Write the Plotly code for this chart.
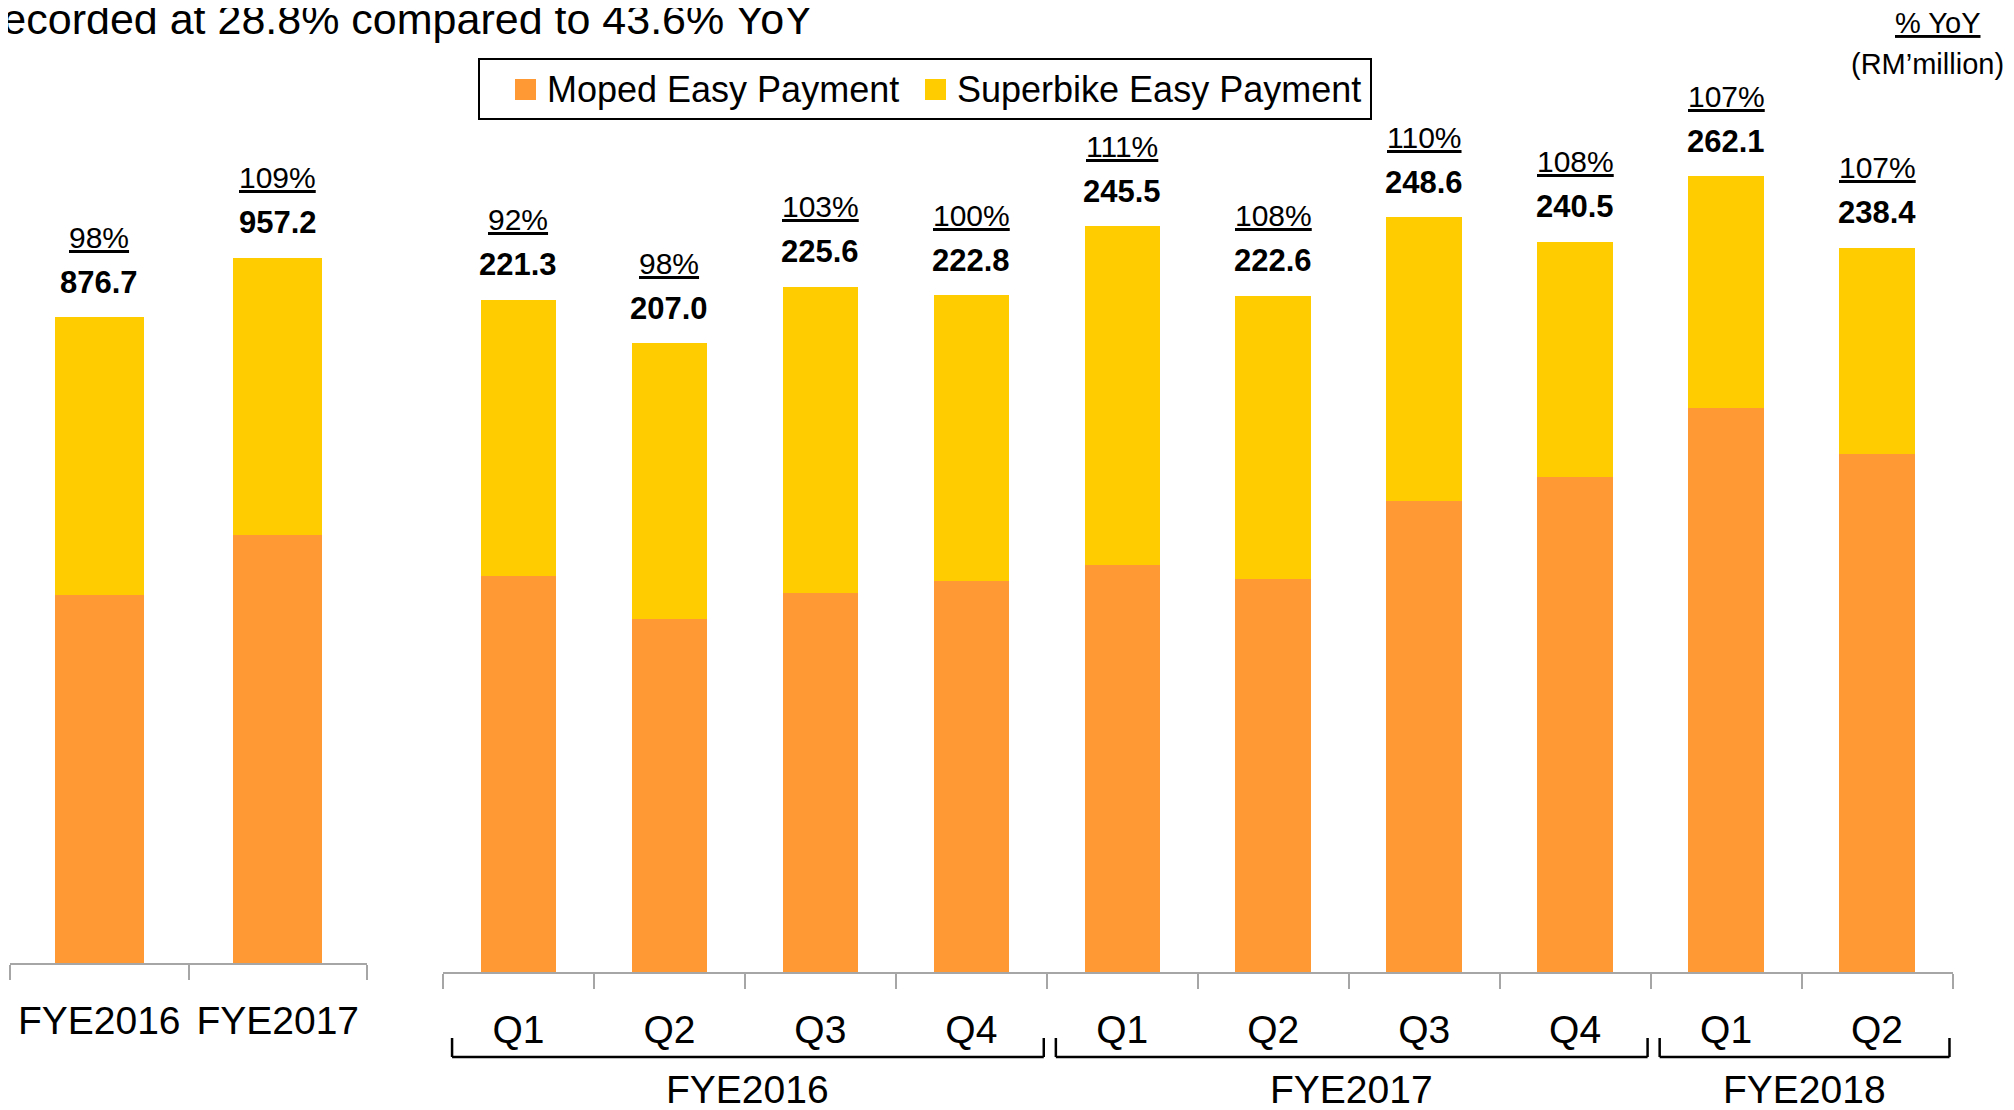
import plotly.graph_objects as go

W, H = 2014, 1110
OFF = 8  # the page body adds an 8 px margin around the figure
FONT = "Liberation Sans, Arial, sans-serif"
ORANGE = "#FF9933"
YELLOW = "#FFCC00"
AXIS_GREY = "#A6A6A6"

# annual (left panel)
annual_labels = ["FYE2016", "FYE2017"]
annual_moped = [500.0, 581.6]
annual_superbike = [376.7, 375.6]
annual_total = [876.7, 957.2]
annual_yoy = ["98%", "109%"]

# quarterly (right panel)
quarter_labels = ["Q1", "Q2", "Q3", "Q4", "Q1", "Q2", "Q3", "Q4", "Q1", "Q2"]
quarter_years = ["FYE2016", "FYE2016", "FYE2016", "FYE2016",
                 "FYE2017", "FYE2017", "FYE2017", "FYE2017",
                 "FYE2018", "FYE2018"]
quarter_moped = [130.3, 116.3, 124.8, 128.6, 134.1, 129.4, 155.2, 162.9, 185.7, 170.5]
quarter_superbike = [91.0, 90.7, 100.8, 94.2, 111.4, 93.2, 93.4, 77.6, 76.4, 67.9]
quarter_total = [221.3, 207.0, 225.6, 222.8, 245.5, 222.6, 248.6, 240.5, 262.1, 238.4]
quarter_yoy = ["92%", "98%", "103%", "100%", "111%", "108%", "110%", "108%", "107%", "107%"]

quarter_keys = [f"{y} {q}" for y, q in zip(quarter_years, quarter_labels)]

# pixels per million on each panel
LEFT_SCALE = 0.7367
RIGHT_SCALE = 3.037


def py(y_px):
    """Screen row (from top) to paper fraction."""
    return (H - (y_px - OFF)) / H


def px_(x_px):
    return (x_px - OFF) / W


fig = go.Figure()

for xs, moped, sb, xa, ya in [
    (annual_labels, annual_moped, annual_superbike, "x", "y"),
    (quarter_keys, quarter_moped, quarter_superbike, "x2", "y2"),
]:
    fig.add_bar(x=xs, y=moped, name="Moped Easy Payment", marker_color=ORANGE,
                marker_line_width=0, xaxis=xa, yaxis=ya, showlegend=False)
    fig.add_bar(x=xs, y=sb, name="Superbike Easy Payment", marker_color=YELLOW,
                marker_line_width=0, xaxis=xa, yaxis=ya, showlegend=False)

annotations = []


def bar_labels(xs, totals, yoys, xref, yref):
    for x, t, p in zip(xs, totals, yoys):
        annotations.append(dict(
            x=x, y=t, xref=xref, yref=yref, text=f"<b>{t:.1f}</b>",
            showarrow=False, xanchor="center", yanchor="middle", yshift=35,
            font=dict(size=31, color="black", family=FONT),
        ))
        annotations.append(dict(
            x=x, y=t, xref=xref, yref=yref,
            text=f"<span style='text-decoration:underline'>{p}</span>",
            showarrow=False, xanchor="center", yanchor="middle", yshift=80,
            font=dict(size=30, color="black", family=FONT),
        ))


bar_labels(annual_labels, annual_total, annual_yoy, "x", "y")
bar_labels(quarter_keys, quarter_total, quarter_yoy, "x2", "y2")

# fiscal-year brackets under the quarterly axis
shapes = []
years = []
for y in quarter_years:
    if y not in years:
        years.append(y)
for y in years:
    idx = [i for i, v in enumerate(quarter_years) if v == y]
    x0 = idx[0] - 0.5 + 0.06
    x1 = idx[-1] + 0.5 - 0.02
    line = dict(color="black", width=2.5)
    shapes.append(dict(type="line", xref="x2", yref="paper", x0=x0, x1=x1,
                       y0=py(1057), y1=py(1057), line=line))
    shapes.append(dict(type="line", xref="x2", yref="paper", x0=x0, x1=x0,
                       y0=py(1057), y1=py(1038), line=line))
    shapes.append(dict(type="line", xref="x2", yref="paper", x0=x1, x1=x1,
                       y0=py(1057), y1=py(1038), line=line))
    annotations.append(dict(
        x=(x0 + x1) / 2, y=py(1089), xref="x2", yref="paper", text=y,
        showarrow=False, xanchor="center", yanchor="middle",
        font=dict(size=39, color="black", family=FONT),
    ))

# legend box drawn by hand to match the large swatches
shapes.append(dict(type="rect", xref="paper", yref="paper",
                   x0=px_(479), x1=px_(1371), y0=py(119), y1=py(59),
                   line=dict(color="black", width=2), fillcolor="white"))
for x0, color, label in [(515, ORANGE, "Moped Easy Payment"),
                         (925, YELLOW, "Superbike Easy Payment")]:
    shapes.append(dict(type="rect", xref="paper", yref="paper",
                       x0=px_(x0), x1=px_(x0 + 21), y0=py(100), y1=py(79),
                       line=dict(width=0), fillcolor=color))
    annotations.append(dict(
        x=px_(x0 + 30), y=py(89), xref="paper", yref="paper", text=label,
        showarrow=False, xanchor="left", yanchor="middle",
        font=dict(size=36, color="black", family=FONT),
    ))

# clipped headline text at the top
annotations.append(dict(
    x=0, y=py(19), xref="paper", yref="paper", xanchor="left", yanchor="middle",
    xshift=-22, text="recorded at 28.8% compared to 43.6% YoY", showarrow=False,
    font=dict(size=43, color="black", family=FONT),
))
annotations.append(dict(
    x=px_(1937), y=py(23), xref="paper", yref="paper", xanchor="center", yanchor="middle",
    text="<span style='text-decoration:underline'>% YoY</span>", showarrow=False,
    font=dict(size=29, color="black", family=FONT),
))
annotations.append(dict(
    x=px_(2006), y=py(64), xref="paper", yref="paper", xanchor="right", yanchor="middle",
    text="(RM\u2019million)", showarrow=False,
    font=dict(size=29, color="black", family=FONT),
))

axis_style = dict(
    type="category", tickson="boundaries", ticks="outside", ticklen=15,
    tickcolor=AXIS_GREY, tickwidth=2, showline=True, linecolor=AXIS_GREY,
    linewidth=2, showgrid=False, tickangle=0, ticklabelstandoff=22,
    automargin=False, tickfont=dict(size=39, color="black", family=FONT),
    fixedrange=True,
)

fig.update_layout(
    width=W, height=H,
    margin=dict(l=0, r=0, t=0, b=0),
    paper_bgcolor="white", plot_bgcolor="white",
    barmode="stack", bargap=0.5,
    font=dict(family=FONT, color="black"),
    xaxis=dict(axis_style, domain=[px_(10), px_(367)], anchor="y",
               range=[-0.5, len(annual_labels) - 0.5]),
    yaxis=dict(domain=[py(963), 1], range=[0, (963 - OFF) / LEFT_SCALE], visible=False),
    xaxis2=dict(axis_style, domain=[px_(443), px_(1952.5)], anchor="y2",
                range=[-0.5, len(quarter_keys) - 0.5],
                tickmode="array", tickvals=quarter_keys, ticktext=quarter_labels),
    yaxis2=dict(domain=[py(972), 1], range=[0, (972 - OFF) / RIGHT_SCALE], visible=False),
    annotations=annotations,
    shapes=shapes,
)

fig.write_html("out.html")
